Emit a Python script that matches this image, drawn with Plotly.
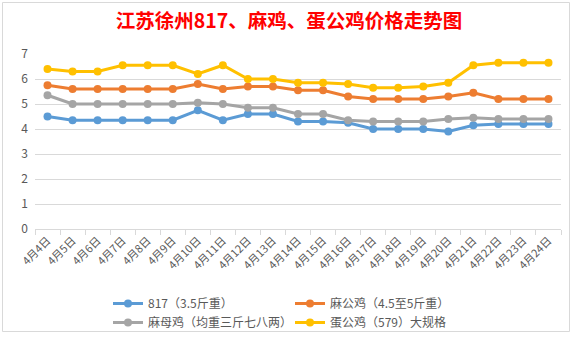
import plotly.graph_objects as go

dates = ["4月4日", "4月5日", "4月6日", "4月7日", "4月8日", "4月9日", "4月10日",
         "4月11日", "4月12日", "4月13日", "4月14日", "4月15日", "4月16日", "4月17日",
         "4月18日", "4月19日", "4月20日", "4月21日", "4月22日", "4月23日", "4月24日"]

s817 = [4.5, 4.35, 4.35, 4.35, 4.35, 4.35, 4.75, 4.35, 4.6, 4.6, 4.3, 4.3, 4.25,
        4.0, 4.0, 4.0, 3.9, 4.15, 4.2, 4.2, 4.2]
ma_gong = [5.75, 5.6, 5.6, 5.6, 5.6, 5.6, 5.8, 5.6, 5.7, 5.7, 5.55, 5.55, 5.3,
           5.2, 5.2, 5.2, 5.3, 5.45, 5.2, 5.2, 5.2]
ma_mu = [5.35, 5.0, 5.0, 5.0, 5.0, 5.0, 5.05, 5.0, 4.85, 4.85, 4.6, 4.6, 4.35,
         4.3, 4.3, 4.3, 4.4, 4.45, 4.4, 4.4, 4.4]
dan_gong = [6.4, 6.3, 6.3, 6.55, 6.55, 6.55, 6.2, 6.55, 6.0, 6.0, 5.85, 5.85, 5.8,
            5.65, 5.65, 5.7, 5.85, 6.55, 6.65, 6.65, 6.65]

names = ["817（3.5斤重）", "麻公鸡（4.5至5斤重）", "麻母鸡（均重三斤七八两）", "蛋公鸡（579）大规格"]
colors = ["#5B9BD5", "#ED7D31", "#A5A5A5", "#FFC000"]
series = [s817, ma_gong, ma_mu, dan_gong]

W, H = 578, 342
L, R, T, B = 35, 17, 54, 113

fig = go.Figure()
for name, col, vals in zip(names, colors, series):
    fig.add_trace(go.Scatter(
        x=dates, y=vals, name=name, mode="lines+markers",
        line=dict(color=col, width=3),
        marker=dict(color=col, size=8, symbol="circle"),
    ))

pw = W - L - R
ph = H - T - B


def px_x(p):
    return (p - L) / pw


def px_y(p):
    return (H - B - p) / ph


fig.update_layout(
    width=W, height=H,
    margin=dict(l=L, r=R, t=T, b=B, pad=0),
    paper_bgcolor="white", plot_bgcolor="white",
    font=dict(family="Noto Sans CJK SC, Microsoft YaHei, sans-serif", color="#595959", size=12),
    title=dict(
        text="<b>江苏徐州817、麻鸡、蛋公鸡价格走势图</b>",
        x=0.5, xref="container", xanchor="center",
        y=1 - 21 / H, yref="container", yanchor="middle",
        font=dict(family="Noto Sans CJK SC, sans-serif", size=19.5, color="#FF0000"),
    ),
    xaxis=dict(
        type="category", tickangle=-45, tickfont=dict(size=11, color="#595959"),
        showgrid=False, showline=True, linecolor="#D9D9D9", linewidth=1,
        ticks="outside", tickson="boundaries", ticklen=5, tickcolor="#D9D9D9",
        range=[-0.5, len(dates) - 0.5], fixedrange=True,
    ),
    yaxis=dict(
        range=[0, 7], dtick=1, tick0=0, showgrid=True, gridcolor="#D9D9D9", gridwidth=1,
        zeroline=False, showline=False, tickfont=dict(size=12, color="#595959"),
        ticks="", ticklabelstandoff=6,
    ),
    legend=dict(
        orientation="h", xref="container", yref="container",
        x=108 / W, xanchor="left", y=1 - 289 / H, yanchor="top",
        entrywidth=137, entrywidthmode="pixels",
        font=dict(size=12, color="#595959"), bgcolor="rgba(0,0,0,0)",
        tracegroupgap=0,
    ),
    shapes=[
        dict(type="rect", xref="paper", yref="paper",
             x0=px_x(2.5), x1=px_x(569.5), y0=px_y(331.5), y1=px_y(2.5),
             line=dict(color="#D9D9D9", width=1), fillcolor="rgba(0,0,0,0)", layer="below"),
    ],
)

fig.write_html("out.html")
